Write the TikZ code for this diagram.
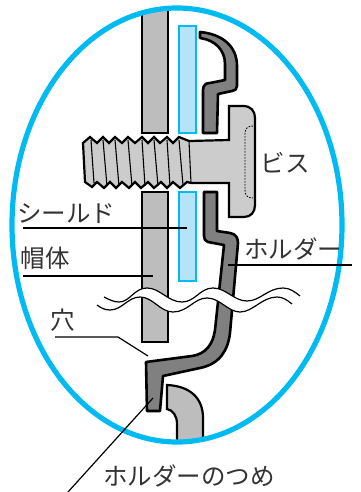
\documentclass[tikz,border=0pt]{standalone}
\usepackage{fontspec}
\newfontfamily\jpfont{Noto Sans CJK JP}
\tikzset{
  px/.style={x=1pt,y=-1pt},
  plate/.style={draw=black,line width=2.2pt,fill=plategray,line join=miter},
  holder/.style={draw=black,line width=2.6pt,fill=holdergray,line join=round},
  boltbody/.style={draw=black,line width=2.2pt,fill=boltgray,line join=miter},
  shieldbox/.style={draw=ringblue,line width=2.6pt,fill=shieldblue},
  ring/.style={draw=ringblue,line width=5.2pt},
  leader/.style={draw=black,line width=1.2pt},
  threadline/.style={draw=black,line width=1.1pt},
  wave/.style={draw=black,line width=1.2pt},
  lbl/.style={font=\jpfont\fontsize{24.5}{24.5}\selectfont,text=black!80,inner sep=0pt,anchor=center}
}
\definecolor{plategray}{HTML}{BDBDBD}
\definecolor{holdergray}{HTML}{808080}
\definecolor{boltgray}{HTML}{CCCCCC}
\definecolor{ringblue}{HTML}{00BAF2}
\definecolor{shieldblue}{HTML}{B5E3FA}
\begin{document}
\begin{tikzpicture}[px]
\useasboundingbox (0,0) rectangle (360,492);
\begin{scope}
  \clip (177,225) ellipse [x radius=165,y radius=217];
  \draw[plate] (142,0) rectangle (168,133);
  \draw[plate] (142,192) rectangle (168,342);
  \draw[shieldbox] (179,26) rectangle (196,133);
  \draw[shieldbox] (179,192) rectangle (196,281);
  % upper holder
  \draw[holder] (200,32) .. controls (222,34) and (237,46) .. (237,66) -- (237,86)
     .. controls (237,89) and (235,91) .. (232,91) -- (218,94) -- (217,133) -- (203,133) -- (203,90)
     .. controls (203,85) and (206,83) .. (210,83) -- (225,80) -- (225,64)
     .. controls (225,50) and (215,40) .. (200,38) -- cycle;
  % lower holder
  \draw[holder] (204,192) -- (217,192) -- (217,231) -- (230,233)
     .. controls (236,234) and (238,238) .. (238,243) -- (230,333)
     .. controls (228,350) and (220,364) .. (200,368) -- (163,376) -- (160,411) -- (147,411) -- (146,362)
     -- (192,356) .. controls (206,354) and (213,344) .. (215,330) -- (224,245) -- (208,242)
     .. controls (205,241) and (204,239) .. (204,236) -- cycle;
  % lower right shape
  \draw[plate] (167,385) .. controls (190,386) and (203,398) .. (203,418) -- (203,445) -- (177,445) -- (177,424)
     .. controls (177,416) and (173,410) .. (167,409) -- cycle;
  % bolt
  \draw[boltbody] (229,106) -- (243,106) .. controls (251,106) and (255,111) .. (255,118) -- (255,205)
     .. controls (255,212) and (251,217) .. (244,217) -- (229,217) -- (229,183) -- (191,183)
     -- (187,182) -- (180,188) -- (173,182) -- (167,188) -- (161,182) -- (154,188) -- (148,182) -- (141,188)
     -- (135,182) -- (129,188) -- (122,182) -- (116,188) -- (110,182) -- (104,188) -- (97,182) -- (92,187) -- (85,182)
     -- (83,143) -- (90,137) -- (97,143) -- (103,137) -- (109,143) -- (115,137) -- (122,143) -- (128,137) -- (135,143)
     -- (142,137) -- (148,143) -- (154,137) -- (160,143) -- (167,137) -- (173,143) -- (179,137) -- (189,141) -- (229,140) -- cycle;
  \draw[threadline] (91,140) -- (94,183);
  \draw[threadline] (103,140) -- (107,186);
  \draw[threadline] (115,140) -- (119,186);
  \draw[threadline] (128,140) -- (132,186);
  \draw[threadline] (142,140) -- (145,186);
  \draw[threadline] (154,140) -- (158,186);
  \draw[threadline] (167,140) -- (170,186);
  \draw[threadline] (179,140) -- (183,185);
  \draw[threadline] (189,141) -- (191,183);
  \draw[black,line width=.9pt,dash pattern=on 1.5pt off 1.5pt] (253,126) .. controls (248,126) and (245,128) .. (245,134) -- (245,190) .. controls (245,196) and (248,198) .. (253,198);
  % break band
  \fill[white] (104,297) .. controls (110,300) and (114,302) .. (119,302) .. controls (130,302) and (134,288) .. (147,288)
     .. controls (160,288) and (168,302) .. (182,302) .. controls (195,302) and (200,288) .. (213,288)
     .. controls (226,288) and (234,301) .. (247,301) .. controls (260,301) and (268,288) .. (283,288)
     .. controls (290,288) and (295,292) .. (300,296)
     -- (292,304) .. controls (287,300) and (283,297) .. (277,297)
     .. controls (262,297) and (253,312) .. (240,312) .. controls (228,312) and (220,298) .. (207,298)
     .. controls (194,298) and (188,312) .. (173,312) .. controls (160,312) and (153,297) .. (140,297)
     .. controls (128,297) and (122,310) .. (110,310) .. controls (105,310) and (101,308) .. (97,305) -- cycle;
  \draw[wave] (104,297) .. controls (110,300) and (114,302) .. (119,302) .. controls (130,302) and (134,288) .. (147,288)
     .. controls (160,288) and (168,302) .. (182,302) .. controls (195,302) and (200,288) .. (213,288)
     .. controls (226,288) and (234,301) .. (247,301) .. controls (260,301) and (268,288) .. (283,288)
     .. controls (290,288) and (295,292) .. (300,296);
  \draw[wave] (97,305) .. controls (101,308) and (105,310) .. (110,310) .. controls (122,310) and (128,297) .. (140,297)
     .. controls (153,297) and (160,312) .. (173,312) .. controls (188,312) and (194,298) .. (207,298)
     .. controls (220,298) and (228,312) .. (240,312) .. controls (253,312) and (262,297) .. (277,297)
     .. controls (283,297) and (287,300) .. (292,304);
\end{scope}
\draw[ring] (177,225) ellipse [x radius=165,y radius=217];
% labels
\node[lbl] (bis) at (285,163) {ビス};
\node[lbl] (shield) at (66,214) {シールド};
\node[lbl] (body) at (45,258) {帽体};
\node[lbl] (hold) at (293,249) {ホルダー};
\node[lbl] (hole) at (63,320) {穴};
\node[lbl] (tsume) at (189,476) {ホルダーのつめ};
% leaders
\coordinate (s0) at (23,228); \coordinate (s1) at (187,228);
\coordinate (b0) at (23,276); \coordinate (b1) at (153,276);
\coordinate (h0) at (228,265); \coordinate (h1) at (352,265);
\coordinate (a0) at (55,337); \coordinate (a1) at (118,337); \coordinate (a2) at (148,356);
\coordinate (t0) at (68,492); \coordinate (t1) at (153,398);
\draw[leader] (s0) -- (s1);
\draw[leader] (b0) -- (b1);
\draw[leader] (h0) -- (h1);
\draw[leader] (a0) -- (a1) -- (a2);
\draw[leader] (t0) -- (t1);
\end{tikzpicture}
\end{document}
